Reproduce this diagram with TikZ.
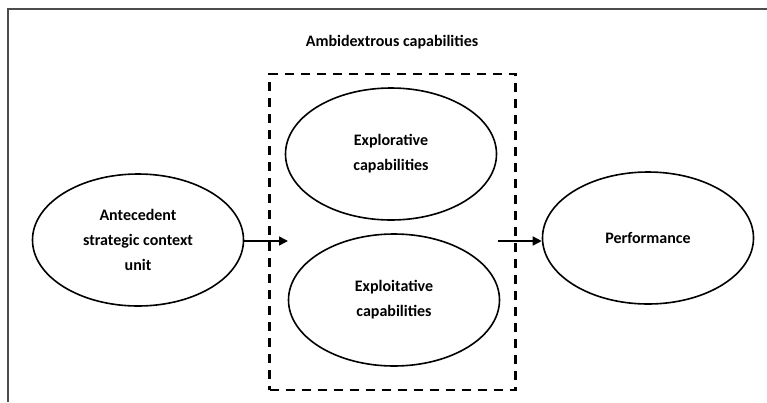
\documentclass[tikz,border=0pt]{standalone}
\usepackage{fontspec}
\setmainfont{Carlito}
\usetikzlibrary{shapes.geometric,arrows.meta}

\begin{document}
\begin{tikzpicture}[x=1pt, y=-1pt, font=\bfseries\fontsize{16}{25}\selectfont]

% Define styles for the constructs and the grouping box
\tikzstyle{construct} = [ellipse, draw, line width=1.6pt, minimum width=211pt, minimum height=132pt, align=center, inner sep=0pt]
\tikzstyle{group} = [draw, dashed, line width=2.6pt, dash pattern=on 9pt off 7pt, minimum width=246pt, minimum height=316pt, inner sep=0pt]
\tikzstyle{link} = [line width=1.6pt, -{Triangle[length=9pt, width=9pt]}]

\useasboundingbox (0,0) rectangle (767,402);

% Outer frame
\draw[line width=1.6pt, black!70] (767,9) -- (8,9) -- (8,402);

% Ambidextrous capabilities in the middle
\node[group] (amb) at (392.5,232) {};
\node (title) at (392,42) {Ambidextrous capabilities};
\node[construct] (explor) at (391,154) {Explorative\\capabilities};
\node[construct] (exploit) at (394,300) {Exploitative\\capabilities};

% Antecedent and outcome
\node[construct] (ante) at (138,240) {Antecedent\\strategic context\\unit};
\node[construct] (perf) at (648,238) {Performance};

% Links
\coordinate (into) at (288,241);
\coordinate (out) at (498,241);
\draw[link] (ante.east |- into) -- (into);
\draw[link] (out) -- (perf.west |- out);

\end{tikzpicture}
\end{document}
